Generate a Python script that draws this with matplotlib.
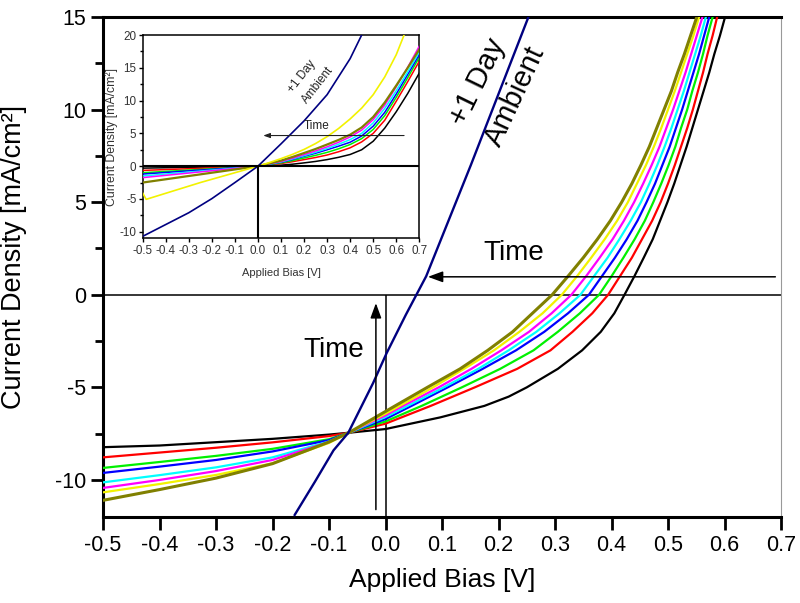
import matplotlib
matplotlib.use("Agg")
import matplotlib.pyplot as plt
from matplotlib.ticker import MultipleLocator

plt.rcParams['font.family'] = ['Liberation Sans', 'DejaVu Sans']
plt.rcParams['axes.unicode_minus'] = False

# ---------------- main plot data (Applied Bias [V], Current Density [mA/cm2]) ----------------
# common current levels on the rising part of the coloured curves
J_rise = [-6, -5, -4, -3, -2, -1, 0, 1, 2, 3, 4, 5, 6, 7, 8, 9, 10, 11, 12, 13, 14, 15]
V_left = [-0.5, -0.4, -0.3, -0.2, -0.1, -0.065, 0.0]

black_V = [-0.5, -0.4, -0.3, -0.2, -0.1, -0.065, 0.0, 0.097, 0.175, 0.218, 0.250, 0.305, 0.348, 0.381, 0.405,
           0.423, 0.4405, 0.457, 0.473, 0.486, 0.499, 0.511, 0.522, 0.533, 0.543, 0.553, 0.563, 0.573, 0.582, 0.592, 0.601]
black_J = [-8.23, -8.14, -7.96, -7.78, -7.55, -7.45, -7.25, -6.62, -6, -5.5, -5, -4, -3, -2, -1,
           0, 1, 2, 3, 4, 5, 6, 7, 8, 9, 10, 11, 12, 13, 14, 15]

red_Jleft = [-8.78, -8.52, -8.26, -7.97, -7.63, -7.45, -6.96]
red_Vrise = [0.080, 0.158, 0.233, 0.292, 0.331, 0.366, 0.394, 0.415, 0.436, 0.454, 0.472, 0.487, 0.500,
             0.512, 0.523, 0.534, 0.544, 0.553, 0.562, 0.570, 0.579, 0.587]

green_Jleft = [-9.35, -9.03, -8.7, -8.32, -7.8, -7.45, -6.84]
green_Vrise = [0.064, 0.135, 0.203, 0.262, 0.305, 0.344, 0.378, 0.400, 0.421, 0.441, 0.459, 0.474, 0.488,
               0.501, 0.513, 0.523, 0.534, 0.543, 0.553, 0.562, 0.570, 0.579]

blue_Jleft = [-9.62, -9.28, -8.92, -8.46, -7.85, -7.45, -6.71]
blue_Vrise = [0.046, 0.110, 0.172, 0.231, 0.281, 0.323, 0.360, 0.383, 0.406, 0.427, 0.446, 0.462, 0.477,
              0.490, 0.503, 0.514, 0.525, 0.535, 0.545, 0.555, 0.564, 0.573]

cyan_Jleft = [-10.13, -9.74, -9.32, -8.78, -7.92, -7.45, -6.6]
cyan_Vrise = [0.039, 0.103, 0.164, 0.218, 0.267, 0.308, 0.345, 0.369, 0.393, 0.414, 0.434, 0.452, 0.467,
              0.481, 0.494, 0.506, 0.517, 0.528, 0.538, 0.548, 0.558, 0.567]

magenta_Jleft = [-10.43, -10.0, -9.52, -8.92, -7.95, -7.45, -6.51]
magenta_Vrise = [0.031, 0.094, 0.152, 0.205, 0.254, 0.294, 0.329, 0.355, 0.379, 0.402, 0.422, 0.440, 0.456,
                 0.471, 0.485, 0.497, 0.509, 0.520, 0.531, 0.541, 0.551, 0.561]

yellow_Jleft = [-10.67, -10.22, -9.73, -9.1, -8.0, -7.45, -6.42]
yellow_Vrise = [0.025, 0.084, 0.139, 0.192, 0.237, 0.278, 0.312, 0.339, 0.364, 0.388, 0.410, 0.429, 0.445,
                0.461, 0.475, 0.488, 0.500, 0.512, 0.523, 0.534, 0.545, 0.555]

olive_Jleft = [-11.1, -10.52, -9.9, -9.12, -7.95, -7.45, -6.3]
olive_Vrise = [0.017, 0.074, 0.132, 0.181, 0.225, 0.260, 0.295, 0.323, 0.350, 0.375, 0.398, 0.418, 0.436,
               0.452, 0.467, 0.480, 0.493, 0.506, 0.517, 0.529, 0.540, 0.551]

day_V = [-0.161, -0.125, -0.092, -0.066, -0.022, 0.002, 0.036, 0.072, 0.151, 0.253]
day_J = [-11.9, -10.1, -8.4, -7.46, -4.77, -3.15, -1.08, 1.0, 7.0, 15.0]

# ---------------- inset data ----------------
in_V = [-0.5, 0.0, 0.1, 0.15, 0.2, 0.25, 0.3, 0.35, 0.4, 0.45, 0.5, 0.55, 0.6, 0.65, 0.7]
in_black_J = [-0.3, 0, 0.15, 0.3, 0.5, 0.72, 1.0, 1.35, 1.78, 2.5, 3.8, 5.8, 8.3, 11.1, 14.2]
in_red_J = [-0.65, 0, 0.4, 0.68, 1.0, 1.32, 1.7, 2.2, 2.8, 3.7, 5.0, 7.0, 9.9, 12.9, 16.0]
in_green_J = [-1.0, 0, 0.5, 0.85, 1.25, 1.65, 2.1, 2.65, 3.3, 4.2, 5.6, 7.7, 10.5, 13.5, 16.6]
in_blue_J = [-1.2, 0, 0.6, 1.02, 1.5, 1.97, 2.5, 3.05, 3.65, 4.6, 6.1, 8.2, 11.0, 14.0, 17.0]
in_cyan_J = [-1.5, 0, 0.65, 1.1, 1.6, 2.12, 2.7, 3.35, 4.05, 5.0, 6.6, 8.8, 11.5, 14.4, 17.4]
in_magenta_J = [-1.75, 0, 0.7, 1.2, 1.75, 2.32, 2.95, 3.65, 4.46, 5.5, 7.1, 9.3, 12.1, 15.1, 18.3]
in_olive_J = [-2.5, 0, 0.85, 1.4, 2.0, 2.62, 3.3, 4.0, 4.8, 5.9, 7.5, 9.7, 12.3, 15.0, 17.8]

in_yellow_V = [-0.5, -0.485, -0.25, 0.0, 0.05, 0.1, 0.15, 0.2, 0.25, 0.3, 0.35, 0.4, 0.45, 0.5, 0.55, 0.6, 0.634]
in_yellow_J = [-4.1, -5.06, -2.5, 0, 0.55, 1.15, 1.8, 2.55, 3.45, 4.5, 5.75, 7.2, 8.85, 10.9, 13.6, 17.0, 20]

in_day_V = [-0.5, -0.4, -0.3, -0.2, -0.1, 0.0, 0.1, 0.2, 0.3, 0.4, 0.45]
in_day_J = [-10.7, -8.9, -7.1, -4.95, -2.5, 0, 3.4, 6.9, 10.9, 16.4, 20]

x_ticks = [-0.5, -0.4, -0.3, -0.2, -0.1, 0.0, 0.1, 0.2, 0.3, 0.4, 0.5, 0.6, 0.7]
x_labels = ['-0.5', '-0.4', '-0.3', '-0.2', '-0.1', '0.0', '0.1', '0.2', '0.3', '0.4', '0.5', '0.6', '0.7']

C_BLACK, C_RED, C_GREEN, C_BLUE = '#000000', '#ff0000', '#00f000', '#0000ff'
C_CYAN, C_MAG, C_YEL, C_OLIVE, C_NAVY = '#00ffff', '#ff00ff', '#f2f200', '#808000', '#000080'

fig = plt.figure(figsize=(8, 6.03), dpi=100)
ax = fig.add_axes([103/800, 1-517/603, 678/800, 500/603])

main_series = [
    (black_V, black_J, C_BLACK, 1.6),
    (V_left + red_Vrise, red_Jleft + J_rise, C_RED, 1.6),
    (V_left + green_Vrise, green_Jleft + J_rise, C_GREEN, 1.6),
    (V_left + blue_Vrise, blue_Jleft + J_rise, C_BLUE, 1.6),
    (V_left + cyan_Vrise, cyan_Jleft + J_rise, C_CYAN, 1.6),
    (V_left + magenta_Vrise, magenta_Jleft + J_rise, C_MAG, 1.6),
    (V_left + yellow_Vrise, yellow_Jleft + J_rise, C_YEL, 1.6),
    (V_left + olive_Vrise, olive_Jleft + J_rise, C_OLIVE, 2.2),
    (day_V, day_J, C_NAVY, 1.7),
]
for V, J, c, lw in main_series:
    ax.plot(V, J, color=c, lw=lw, solid_joinstyle='round', solid_capstyle='round', zorder=3)

ax.set_xlim(-0.5, 0.7)
ax.set_ylim(-12, 15)
ax.axhline(0, color='black', lw=1.1, zorder=2)
ax.vlines(0, -12, 0, color='black', lw=1.1, zorder=2)

# arrows and labels
ax.annotate('', xy=(0.075, 0.97), xytext=(0.69, 0.97),
            arrowprops=dict(arrowstyle='-|>,head_length=0.6,head_width=0.22', color='black',
                            lw=1.1, mutation_scale=15, shrinkA=0, shrinkB=0), zorder=4)
ax.annotate('', xy=(-0.017, -0.45), xytext=(-0.017, -11.6),
            arrowprops=dict(arrowstyle='-|>,head_length=0.6,head_width=0.22', color='black',
                            lw=1.1, mutation_scale=15, shrinkA=0, shrinkB=0), zorder=4)
ax.text(0.227, 2.27, 'Time', fontsize=20, ha='center', va='center')
ax.text(-0.092, -2.97, 'Time', fontsize=20, ha='center', va='center')
ax.text(0.164, 11.47, '+1 Day', fontsize=21, ha='center', va='center', rotation=64)
ax.text(0.229, 10.7, 'Ambient', fontsize=21, ha='center', va='center', rotation=65)

ax.set_xticks(x_ticks)
ax.set_xticklabels(x_labels)
ax.yaxis.set_major_locator(MultipleLocator(5))
ax.yaxis.set_minor_locator(MultipleLocator(2.5))
ax.tick_params(axis='both', which='major', direction='out', length=9, width=2.0, labelsize=15.5)
ax.tick_params(axis='y', which='minor', direction='out', length=5.5, width=2.0)
ax.tick_params(axis='x', pad=4)
ax.tick_params(axis='y', pad=3)
for s in ['left', 'bottom', 'top']:
    ax.spines[s].set_linewidth(2.2)
ax.spines['right'].set_linewidth(0.8)
ax.spines['right'].set_color('#999999')

ax.set_xlabel('Applied Bias [V]', fontsize=19)
ax.xaxis.set_label_coords(0.5, -0.102)
ax.set_ylabel('Current Density [mA/cm²]', fontsize=19.5)
ax.yaxis.set_label_coords(-0.112, 0.52)

# ---------------- inset ----------------
ins = fig.add_axes([142.7/800, 1-238.3/603, 276.6/800, 203.3/603])
ins_series = [
    (in_V, in_black_J, C_BLACK, 1.1),
    (in_V, in_red_J, C_RED, 1.1),
    (in_V, in_green_J, C_GREEN, 1.1),
    (in_V, in_blue_J, C_BLUE, 1.1),
    (in_V, in_cyan_J, C_CYAN, 1.1),
    (in_V, in_magenta_J, C_MAG, 1.1),
    (in_V, in_olive_J, C_OLIVE, 1.6),
    (in_yellow_V, in_yellow_J, C_YEL, 1.2),
    (in_day_V, in_day_J, C_NAVY, 1.2),
]
for V, J, c, lw in ins_series:
    ins.plot(V, J, color=c, lw=lw, solid_joinstyle='round', zorder=3)
ins.set_xlim(-0.5, 0.7)
ins.set_ylim(-11, 20)
ins.axhline(0, color='black', lw=1.5, zorder=4)
ins.vlines(0, -11, 0, color='black', lw=1.5, zorder=4)
ins.annotate('', xy=(0.023, 4.67), xytext=(0.634, 4.67),
             arrowprops=dict(arrowstyle='-|>,head_length=0.5,head_width=0.18', color='#222222',
                             lw=0.8, mutation_scale=8, shrinkA=0, shrinkB=0), zorder=5)
ins.text(0.255, 6.2, 'Time', fontsize=8.5, ha='center', va='center', color='#222222')
ins.text(0.19, 13.6, '+1 Day', fontsize=8.5, ha='center', va='center', rotation=52, color='#222222')
ins.text(0.262, 12.4, 'Ambient', fontsize=8.5, ha='center', va='center', rotation=52, color='#222222')
ins.set_xticks(x_ticks)
ins.set_xticklabels(x_labels)
ins.yaxis.set_major_locator(MultipleLocator(5))
ins.yaxis.set_minor_locator(MultipleLocator(2.5))
ins.tick_params(axis='both', which='major', direction='out', length=3, width=1.0,
                labelsize=8.4, labelcolor='#333333', pad=1.5)
ins.tick_params(axis='y', which='minor', direction='out', length=2, width=1.0)
for s in ins.spines.values():
    s.set_linewidth(1.1)
ins.set_xlabel('Applied Bias [V]', fontsize=8, color='#333333', labelpad=8)
ins.set_ylabel('Current Density [mA/cm²]', fontsize=8.8, color='#333333', labelpad=1)

fig.savefig('out.png', dpi=100)
